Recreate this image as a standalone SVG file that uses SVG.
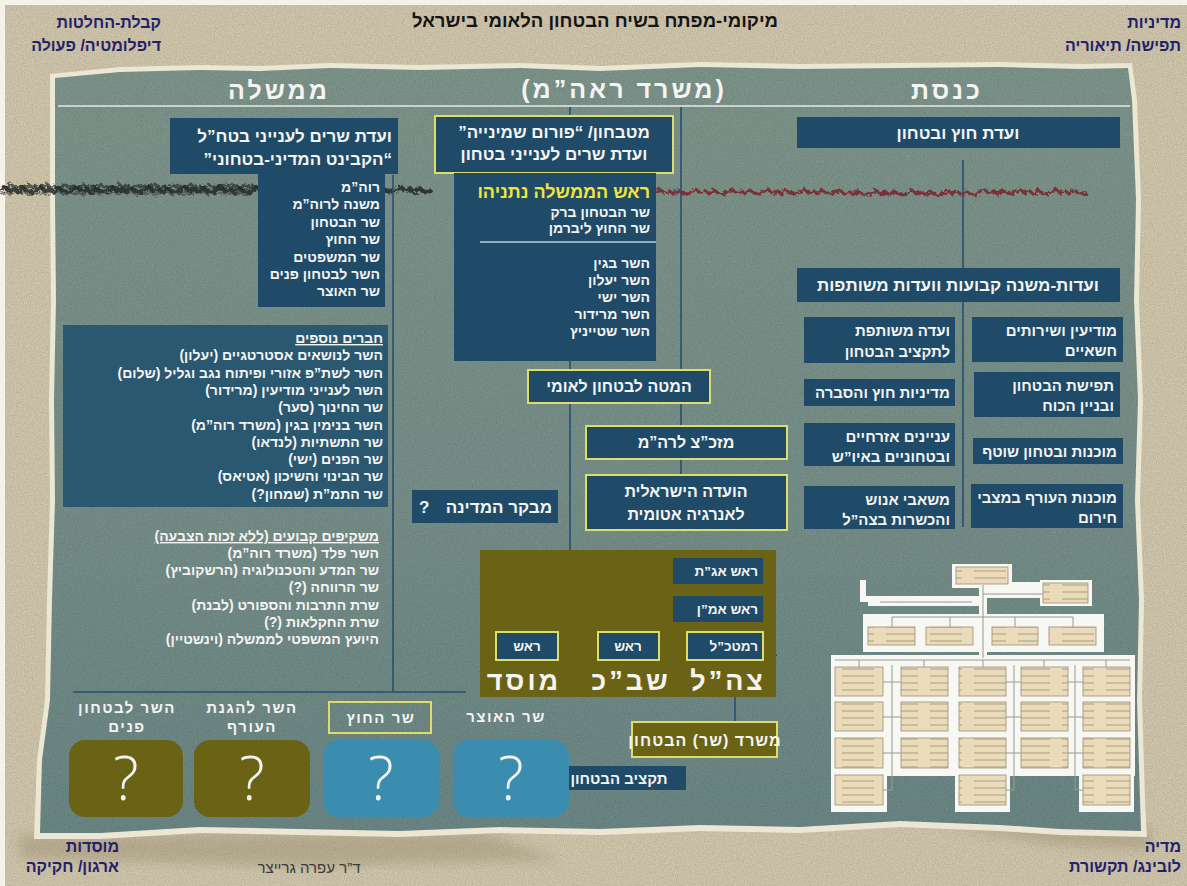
<svg xmlns="http://www.w3.org/2000/svg" width="1187" height="886" viewBox="0 0 1187 886">
<defs>
<style>
.t{font-family:"Liberation Sans","DejaVu Sans",sans-serif;font-weight:bold;fill:#f4f4f2;direction:rtl}
.r{text-anchor:start}
.m{text-anchor:middle}
.nv{fill:#1f4b69}
.yb{stroke:#dedd6a;stroke-width:2}
.ol{fill:#6a6316}
.bl{fill:#3b8db0}
.ln{stroke:#26506f;stroke-width:1.6;fill:none}
.cn{font-family:"Liberation Sans","DejaVu Sans",sans-serif;font-weight:bold;fill:#24216b;font-size:16px;direction:rtl;text-anchor:start}
.ob{fill:url(#txt);stroke:#9c8e70;stroke-width:0.8}
.ow{fill:#f7f7f4}
.oc{stroke:#9a9a92;stroke-width:1;fill:none}
.q{font-family:"Open Sans","Lato",sans-serif;font-weight:300;font-size:60px;fill:#f3f3f3;text-anchor:middle}
.s14{font-size:14px}
.s17{font-size:17px}
.hd{font-size:25px;letter-spacing:3px}
.lb{font-size:15px;letter-spacing:1.5px}
.big{font-size:27px;letter-spacing:3px}
</style>
<linearGradient id="pg" x1="0" y1="0" x2="0" y2="1">
<stop offset="0" stop-color="#81998f"/>
<stop offset="0.55" stop-color="#7b938d"/>
<stop offset="1" stop-color="#6e8b89"/>
</linearGradient>
<pattern id="txt" width="44" height="7" patternUnits="userSpaceOnUse">
<rect width="44" height="7" fill="#eadcbb"/>
<path d="M6,4 H38" stroke="#a69676" stroke-width="0.9"/>
</pattern>
<filter id="grain" x="0" y="0" width="100%" height="100%">
<feTurbulence type="fractalNoise" baseFrequency="0.9" numOctaves="2" seed="4" result="n"/>
<feColorMatrix in="n" type="matrix" values="0 0 0 0 0 0 0 0 0 0 0 0 0 0 0 0 0 0 0.22 -0.04" result="a"/>
<feComposite in="a" in2="SourceGraphic" operator="in"/>
</filter>
<filter id="rough" x="-5%" y="-80%" width="110%" height="260%">
<feTurbulence type="fractalNoise" baseFrequency="0.3" numOctaves="2" seed="7" result="n"/>
<feDisplacementMap in="SourceGraphic" in2="n" scale="6"/>
</filter>
<filter id="blur"><feGaussianBlur stdDeviation="6"/></filter>
</defs>

<!-- paper background -->
<rect x="0" y="0" width="1187" height="886" fill="#f5f2ea"/>
<rect x="5" y="5" width="1182" height="881" fill="#d6ccb1"/>
<rect x="5" y="5" width="1182" height="881" fill="#000" filter="url(#grain)"/>

<!-- shadow under panel -->
<path d="M20,835 L480,832 L560,860 L300,866 L20,858 Z M940,826 L1150,826 L1150,850 L1060,845 Z" fill="#8b7d5d" opacity="0.35" filter="url(#blur)"/>

<!-- panel fringe and panel -->
<path d="M50,74 L120,67 L200,65 L260,66 L330,63 L420,65 L520,63 L600,66 L700,62 L800,64 L900,63 L1000,62 L1080,64 L1132,63 L1137,100 L1141,200 L1139,300 L1143,400 L1140,500 L1144,600 L1142,700 L1145,800 L1147,837 L1060,835 L1000,831 L900,827 L800,833 L700,831 L600,835 L500,833 L400,837 L300,835 L200,833 L100,839 L34,839 L37,760 L45,700 L47,600 L50,500 L49,400 L51,300 L50,200 Z" fill="#ece6d4"/>
<path id="panel" d="M55,78 L120,72 L200,70 L260,71 L330,68 L420,70 L520,68 L600,71 L700,67 L800,69 L900,68 L1000,67 L1080,69 L1128,68 L1132,100 L1136,200 L1134,300 L1138,400 L1135,500 L1139,600 L1137,700 L1140,800 L1141,831 L1060,829 L1000,825 L900,821 L800,827 L700,825 L600,829 L500,827 L400,831 L300,829 L200,827 L100,833 L40,833 L42,760 L50,700 L52,600 L55,500 L54,400 L56,300 L55,200 Z" fill="url(#pg)"/>
<path d="M55,78 L120,72 L200,70 L260,71 L330,68 L420,70 L520,68 L600,71 L700,67 L800,69 L900,68 L1000,67 L1080,69 L1128,68 L1132,100 L1136,200 L1134,300 L1138,400 L1135,500 L1139,600 L1137,700 L1140,800 L1141,831 L1060,829 L1000,825 L900,821 L800,827 L700,825 L600,829 L500,827 L400,831 L300,829 L200,827 L100,833 L40,833 L42,760 L50,700 L52,600 L55,500 L54,400 L56,300 L55,200 Z" fill="#000" filter="url(#grain)"/>

<!-- scribbles -->
<g id="scribbles" filter="url(#rough)" fill="none" stroke-linejoin="round">
<path d="M0,190 l5,-3 l4,4 l6,-2 l3,3 l5,-4 l4,3 l6,1 l3,-2 l5,-3 l4,4 l6,-2 l3,3 l5,-4 l4,3 l6,1 l3,-2 l5,-3 l4,4 l6,-2 l3,3 l5,-4 l4,3 l6,1 l3,-2 l5,-3 l4,4 l6,-2 l3,3 l5,-4 l4,3 l6,1 l3,-2 l5,-3 l4,4 l6,-2 l3,3 l5,-4 l4,3 l6,1 l3,-2 l5,-3 l4,4 l6,-2 l3,3 l5,-4 l4,3 l6,1 l3,-2 l5,-3 l4,4 l6,-2 l3,3 l5,-4 l4,3 l6,1 l3,-2 l5,-3 l4,4 l6,-2 l3,3 l5,-4 l4,3 l6,1 l3,-2 l5,-3 l4,4 l6,-2 l3,3 l5,-4 l4,3 l6,1 l3,-2 l5,-3 l4,4 l6,-2 l3,3 l5,-4 l4,3 l6,1 l3,-2 l5,-3 l4,4 l6,-2 l3,3 l5,-4 l4,3 l6,1 l3,-2 l5,-3 l4,4 l6,-2 l3,3 l5,-4 l4,3 l6,1 l3,-2" stroke="#1d1f1f" stroke-width="4.2" opacity="0.8"/>
<path d="M2,186 l4,2 l5,-4 l3,3 l6,-1 l4,2 l5,-3 l3,2 l6,-1 l4,2 l5,-4 l3,3 l6,-1 l4,2 l5,-3 l3,2 l6,-1 l4,2 l5,-4 l3,3 l6,-1 l4,2 l5,-3 l3,2 l6,-1 l4,2 l5,-4 l3,3 l6,-1 l4,2 l5,-3 l3,2 l6,-1 l4,2 l5,-4 l3,3 l6,-1 l4,2 l5,-3 l3,2 l6,-1 l4,2 l5,-4 l3,3 l6,-1 l4,2 l5,-3 l3,2 l6,-1 l4,2 l5,-4 l3,3 l6,-1 l4,2 l5,-3 l3,2 l6,-1 l4,2 l5,-4 l3,3 l6,-1 l4,2 l5,-3 l3,2 l6,-1 l4,2 l5,-4 l3,3 l6,-1 l4,2 l5,-3 l3,2 l6,-1" stroke="#2a2c2a" stroke-width="3" opacity="0.7"/>
<path d="M0,194 l6,-2 l4,3 l5,-3 l3,2 l6,-2 l4,3 l5,-2 l3,1 l6,-2 l4,3 l5,-3 l3,2 l6,-2 l4,3 l5,-2 l3,1 l6,-2 l4,3 l5,-3 l3,2 l6,-2 l4,3 l5,-2 l3,1 l6,-2 l4,3 l5,-3 l3,2 l6,-2 l4,3 l5,-2 l3,1 l6,-2 l4,3 l5,-3 l3,2 l6,-2 l4,3 l5,-2 l3,1 l6,-2 l4,3 l5,-3 l3,2 l6,-2 l4,3 l5,-2 l3,1 l6,-2 l4,3 l5,-3 l3,2 l6,-2 l4,3 l5,-2 l3,1" stroke="#333533" stroke-width="2" opacity="0.6"/>
<path d="M655,192 l5,-3 l4,4 l6,-2 l3,3 l5,-4 l4,3 l6,1 l3,-2 l5,-3 l4,4 l6,-2 l3,3 l5,-4 l4,3 l6,1 l3,-2 l5,-3 l4,4 l6,-2 l3,3 l5,-4 l4,3 l6,1 l3,-2 l5,-3 l4,4 l6,-2 l3,3 l5,-4 l4,3 l6,1 l3,-2 l5,-3 l4,4 l6,-2 l3,3 l5,-4 l4,3 l6,1 l3,-2 l5,-2 l4,4 l6,-2 l3,3 l5,-4 l4,3 l6,1 l3,-2 l5,-3 l4,4 l6,-2 l3,3 l5,-4 l4,3 l6,1 l3,-2 l5,-3 l4,4 l6,-2 l3,3 l5,-4 l4,3 l6,1 l3,-2 l5,-3 l4,4 l6,-2 l3,3 l5,-4 l4,3 l6,1 l3,-3 l5,-3 l4,4 l6,-2 l3,3 l5,-4 l4,3 l6,1 l3,-2 l5,-3 l4,4 l6,-2 l3,3 l5,-4 l4,3 l6,1 l3,-2 l5,-3 l4,4 l6,-2 l3,3 l5,-4 l4,3 l6,1 l3,-2" stroke="#7c1f2b" stroke-width="3" opacity="0.85"/>
</g>

<!-- corner labels and title -->
<g id="corner-decision"><text class="cn" x="161" y="28">קבלת-החלטות</text><text class="cn" x="161" y="51">דיפלומטיה/ פעולה</text></g>
<g id="corner-policy"><text class="cn" x="1181" y="28">מדיניות</text><text class="cn" x="1181" y="51">תפישה/ תיאוריה</text></g>
<g id="corner-institutions"><text class="cn" x="119" y="852">מוסדות</text><text class="cn" x="119" y="872">ארגון/ חקיקה</text></g>
<g id="corner-media"><text class="cn" x="1181" y="852">מדיה</text><text class="cn" x="1181" y="872">לובינג/ תקשורת</text></g>
<g id="title"><text x="595" y="27" style="font-family:'Liberation Sans','DejaVu Sans',sans-serif;font-weight:bold;font-size:18.5px;fill:#141414;direction:rtl;text-anchor:middle">מיקומי-מפתח בשיח הבטחון הלאומי בישראל</text></g>
<g id="author"><text x="309" y="873" style="font-family:'Liberation Sans','DejaVu Sans',sans-serif;font-size:15px;fill:#3a3a3a;direction:rtl;text-anchor:middle">ד”ר עפרה גרייצר</text></g>

<!-- column headers -->
<g id="hdr-government"><text class="t m hd" x="279" y="99">ממשלה</text></g>
<g id="hdr-pmo"><text class="t m hd" x="624" y="98">(משרד ראה”מ)</text></g>
<g id="hdr-knesset"><text class="t m hd" x="947" y="99">כנסת</text></g>
<path d="M58,106 H1130" stroke="#cbd2cf" stroke-width="2"/>

<!-- connectors -->
<g id="connectors" class="ln">
<path d="M393,175 V692"/>
<path d="M73,692 H466"/>
<path d="M570,107 V116 M570,361 V370 M570,403 V655"/>
<path d="M558,655 H598"/>
<path d="M763,655 H777"/>
<path d="M681,107 V426 M681,459 V475"/>
<path d="M735,697 V722"/>
<path d="M963,160 V268 M963,302 V527"/>
</g>

<!-- government column -->
<g id="cabinet">
<rect class="nv" x="170" y="118" width="228" height="56"/>
<text class="t r s17" x="392" y="142">ועדת שרים לענייני בטח”ל</text>
<text class="t r s17" x="392" y="165">“הקבינט המדיני-בטחוני”</text>
</g>
<g id="cabinet-members">
<rect class="nv" x="258" y="173" width="127" height="134"/>
<text class="t r s14" x="380" y="192">רוה”מ</text>
<text class="t r s14" x="380" y="209">משנה לרוה”מ</text>
<text class="t r s14" x="380" y="227">שר הבטחון</text>
<text class="t r s14" x="380" y="244">שר החוץ</text>
<text class="t r s14" x="380" y="262">שר המשפטים</text>
<text class="t r s14" x="380" y="279">השר לבטחון פנים</text>
<text class="t r s14" x="380" y="296">שר האוצר</text>
</g>
<g id="more-members">
<rect x="63" y="325" width="325" height="182" fill="#295870"/>
<text class="t r s14" x="383" y="343" text-decoration="underline">חברים נוספים</text>
<text class="t r s14" x="383" y="360">השר לנושאים אסטרטגיים (יעלון)</text>
<text class="t r s14" x="383" y="378">השר לשת”פ אזורי ופיתוח נגב וגליל (שלום)</text>
<text class="t r s14" x="383" y="395">השר לענייני מודיעין (מרידור)</text>
<text class="t r s14" x="383" y="412">שר החינוך (סער)</text>
<text class="t r s14" x="383" y="430">השר בנימין בגין (משרד רוה”מ)</text>
<text class="t r s14" x="383" y="447">שר התשתיות (לנדאו)</text>
<text class="t r s14" x="383" y="464">שר הפנים (ישי)</text>
<text class="t r s14" x="383" y="481">שר הבינוי והשיכון (אטיאס)</text>
<text class="t r s14" x="383" y="499">שר התמ”ת (שמחון?)</text>
</g>
<g id="observers">
<text class="t r s14" x="379" y="541" text-decoration="underline">משקיפים קבועים (ללא זכות הצבעה)</text>
<text class="t r s14" x="379" y="558">השר פלד (משרד רוה”מ)</text>
<text class="t r s14" x="379" y="575">שר המדע והטכנולוגיה (הרשקוביץ)</text>
<text class="t r s14" x="379" y="592">שר הרווחה (?)</text>
<text class="t r s14" x="379" y="610">שרת התרבות והספורט (לבנת)</text>
<text class="t r s14" x="379" y="627">שרת החקלאות (?)</text>
<text class="t r s14" x="379" y="644">היועץ המשפטי לממשלה (וינשטיין)</text>
</g>

<!-- PMO column -->
<g id="kitchen-cabinet">
<rect class="nv yb" x="435" y="116" width="238" height="57"/>
<text class="t m s17" x="554" y="138">מטבחון/ “פורום שמינייה”</text>
<text class="t m s17" x="554" y="160">ועדת שרים לענייני בטחון</text>
</g>
<g id="kitchen-members">
<rect class="nv" x="454" y="173" width="202" height="188"/>
<text class="t r" x="650" y="198" style="font-size:18px;fill:#f3e43c">ראש הממשלה נתניהו</text>
<text class="t r s14" x="650" y="217">שר הבטחון ברק</text>
<text class="t r s14" x="650" y="233">שר החוץ ליברמן</text>
<path d="M480,242 H656" stroke="#c5ced3" stroke-width="1.5"/>
<text class="t r s14" x="650" y="268">השר בגין</text>
<text class="t r s14" x="650" y="285">השר יעלון</text>
<text class="t r s14" x="650" y="302">השר ישי</text>
<text class="t r s14" x="650" y="319">השר מרידור</text>
<text class="t r s14" x="650" y="336">השר שטייניץ</text>
</g>
<g id="nsc">
<rect class="nv yb" x="528" y="370" width="182" height="33"/>
<text class="t m" x="619" y="392" style="font-size:16px">המטה לבטחון לאומי</text>
</g>
<g id="military-secretary">
<rect class="nv yb" x="586" y="426" width="201" height="33"/>
<text class="t m" x="686" y="448" style="font-size:16px">מזכ”צ לרה”מ</text>
</g>
<g id="atomic-energy">
<rect class="nv yb" x="586" y="475" width="201" height="55"/>
<text class="t m" x="686" y="497" style="font-size:16px">הועדה הישראלית</text>
<text class="t m" x="686" y="520" style="font-size:16px">לאנרגיה אטומית</text>
</g>
<g id="comptroller">
<rect class="nv" x="412" y="490" width="146" height="33"/>
<text class="t" x="419" y="513" style="font-size:17px;text-anchor:start;direction:ltr">?</text>
<text class="t r" x="552" y="513" style="font-size:17px">מבקר המדינה</text>
</g>
<g id="security-services">
<rect class="ol" x="480" y="550" width="296" height="147"/>
<rect class="nv" x="673" y="558" width="90" height="26"/>
<text class="t r" x="758" y="576" style="font-size:13.5px">ראש אג”ת</text>
<rect class="nv" x="673" y="596" width="90" height="26"/>
<text class="t r" x="758" y="614" style="font-size:13.5px">ראש אמ”ן</text>
<rect class="nv yb" x="687" y="632" width="76" height="28"/>
<text class="t r" x="758" y="651" style="font-size:13.5px">רמטכ”ל</text>
<rect class="nv yb" x="598" y="632" width="61" height="28"/>
<text class="t m" x="628" y="651" style="font-size:13.5px">ראש</text>
<rect class="nv yb" x="496" y="632" width="62" height="28"/>
<text class="t m" x="527" y="651" style="font-size:13.5px">ראש</text>
<text class="t m big" x="728" y="690">צה”ל</text>
<text class="t m big" x="631" y="690">שב”כ</text>
<text class="t m big" x="524" y="690">מוסד</text>
</g>
<g id="defense-ministry">
<rect class="ol yb" x="632" y="722" width="145" height="35"/>
<text class="t m" x="705" y="746" style="font-size:16px;letter-spacing:1px">משרד (שר) הבטחון</text>
</g>
<g id="defense-budget">
<rect class="nv" x="552" y="766" width="134" height="24"/>
<text class="t m" x="619" y="784" style="font-size:15px">תקציב הבטחון</text>
</g>

<!-- ministers row -->
<g id="min-internal-security">
<text class="t m lb" x="127" y="713">השר לבטחון</text>
<text class="t m lb" x="127" y="732">פנים</text>
<rect class="ol" x="69" y="740" width="114" height="77" rx="16"/>
<text class="q" x="126" y="800">?</text>
</g>
<g id="min-home-front">
<text class="t m lb" x="252" y="713">השר להגנת</text>
<text class="t m lb" x="252" y="732">העורף</text>
<rect class="ol" x="194" y="740" width="116" height="77" rx="16"/>
<text class="q" x="252" y="800">?</text>
</g>
<g id="min-foreign">
<rect x="329" y="702" width="102" height="31" fill="none" class="yb"/>
<text class="t m lb" x="381" y="723">שר החוץ</text>
<rect class="bl" x="323" y="740" width="116" height="77" rx="16"/>
<text class="q" x="381" y="800">?</text>
</g>
<g id="min-finance">
<text class="t m lb" x="506" y="722">שר האוצר</text>
<rect class="bl" x="453" y="740" width="116" height="77" rx="16"/>
<text class="q" x="511" y="800">?</text>
</g>

<!-- Knesset column -->
<g id="fadc">
<rect class="nv" x="797" y="117" width="323" height="31"/>
<text class="t m s17" x="958" y="139">ועדת חוץ ובטחון</text>
</g>
<g id="subcommittees">
<rect class="nv" x="797" y="268" width="323" height="34"/>
<text class="t m s17" x="958" y="291">ועדות-משנה קבועות וועדות משותפות</text>
</g>
<g id="sc-intelligence">
<rect class="nv" x="972" y="317" width="151" height="45"/>
<text class="t r" x="1117" y="336" style="font-size:15px">מודיעין ושירותים</text>
<text class="t r" x="1117" y="356" style="font-size:15px">חשאיים</text>
</g>
<g id="sc-doctrine">
<rect class="nv" x="974" y="372" width="146" height="45"/>
<text class="t r" x="1114" y="391" style="font-size:15px">תפישת הבטחון</text>
<text class="t r" x="1114" y="411" style="font-size:15px">ובניין הכוח</text>
</g>
<g id="sc-readiness">
<rect class="nv" x="973" y="438" width="150" height="26"/>
<text class="t r" x="1117" y="457" style="font-size:15px">מוכנות ובטחון שוטף</text>
</g>
<g id="sc-home-front">
<rect class="nv" x="971" y="484" width="152" height="44"/>
<text class="t r" x="1117" y="503" style="font-size:15px">מוכנות העורף במצבי</text>
<text class="t r" x="1117" y="523" style="font-size:15px">חירום</text>
</g>
<g id="sc-budget">
<rect class="nv" x="804" y="317" width="151" height="46"/>
<text class="t r" x="950" y="336" style="font-size:15px">ועדה משותפת</text>
<text class="t r" x="950" y="357" style="font-size:15px">לתקציב הבטחון</text>
</g>
<g id="sc-foreign-policy">
<rect class="nv" x="804" y="379" width="151" height="27"/>
<text class="t r" x="950" y="398" style="font-size:15px">מדיניות חוץ והסברה</text>
</g>
<g id="sc-judea-samaria">
<rect class="nv" x="804" y="423" width="151" height="43"/>
<text class="t r" x="950" y="442" style="font-size:15px">עניינים אזרחיים</text>
<text class="t r" x="950" y="462" style="font-size:15px">ובטחוניים באיו”ש</text>
</g>
<g id="sc-manpower">
<rect class="nv" x="804" y="486" width="151" height="43"/>
<text class="t r" x="950" y="505" style="font-size:15px">משאבי אנוש</text>
<text class="t r" x="950" y="525" style="font-size:15px">והכשרות בצה”ל</text>
</g>

<!-- IDF general staff chart (illegible print) -->
<g id="idf-chart">
<path class="ow" d="M952,564 H1012 V582 H1040 V580 H1092 V606 H1040 V598 H987 V614 H1104 V652 H987 V655 H1135 V776 H1134 V812 H1079 V776 H1010 V812 H955 V776 H887 V812 H831 V655 H979 V652 H863 V614 H979 V606 H868 V602 H860 V580 H866 V596 H979 V588 H952 Z"/>
<path class="oc" d="M983,585 V658 M983,594 H1043 M880,602 H972 M892,617 H1073 M892,617 V627 M950,617 V627 M1015,617 V627 M1073,617 V627 M835,660 H1130 M859,660 V667 M924,660 V667 M983,660 V667 M1044,660 V667 M1106,660 V667 M892,665 V790 M883,682 H901 M883,717 H901 M883,753 H901 M883,790 H892 M1014,665 V790 M1006,682 H1021 M1006,717 H1021 M1006,753 H1021 M1006,790 H1014 M1075,665 V790 M1068,682 H1083 M1068,717 H1083 M1068,753 H1083 M1075,790 H1083"/>
<rect class="ob" x="956" y="567" width="52" height="17"/>
<rect class="ob" x="1043" y="583" width="45" height="20"/>
<rect class="ob" x="868" y="627" width="47" height="18"/>
<rect class="ob" x="926" y="627" width="47" height="18"/>
<rect class="ob" x="992" y="627" width="46" height="18"/>
<rect class="ob" x="1049" y="627" width="47" height="18"/>
<rect class="ob" x="835" y="667" width="48" height="29"/>
<rect class="ob" x="835" y="702" width="48" height="29"/>
<rect class="ob" x="835" y="738" width="48" height="30"/>
<rect class="ob" x="835" y="775" width="48" height="30"/>
<rect class="ob" x="901" y="667" width="47" height="29"/>
<rect class="ob" x="901" y="702" width="47" height="29"/>
<rect class="ob" x="901" y="738" width="47" height="30"/>
<rect class="ob" x="959" y="667" width="47" height="29"/>
<rect class="ob" x="959" y="702" width="47" height="29"/>
<rect class="ob" x="959" y="738" width="47" height="30"/>
<rect class="ob" x="959" y="775" width="47" height="30"/>
<rect class="ob" x="1021" y="667" width="47" height="29"/>
<rect class="ob" x="1021" y="702" width="47" height="29"/>
<rect class="ob" x="1021" y="738" width="47" height="30"/>
<rect class="ob" x="1083" y="667" width="47" height="29"/>
<rect class="ob" x="1083" y="702" width="47" height="29"/>
<rect class="ob" x="1083" y="738" width="47" height="30"/>
<rect class="ob" x="1083" y="775" width="47" height="30"/>
</g>
</svg>
